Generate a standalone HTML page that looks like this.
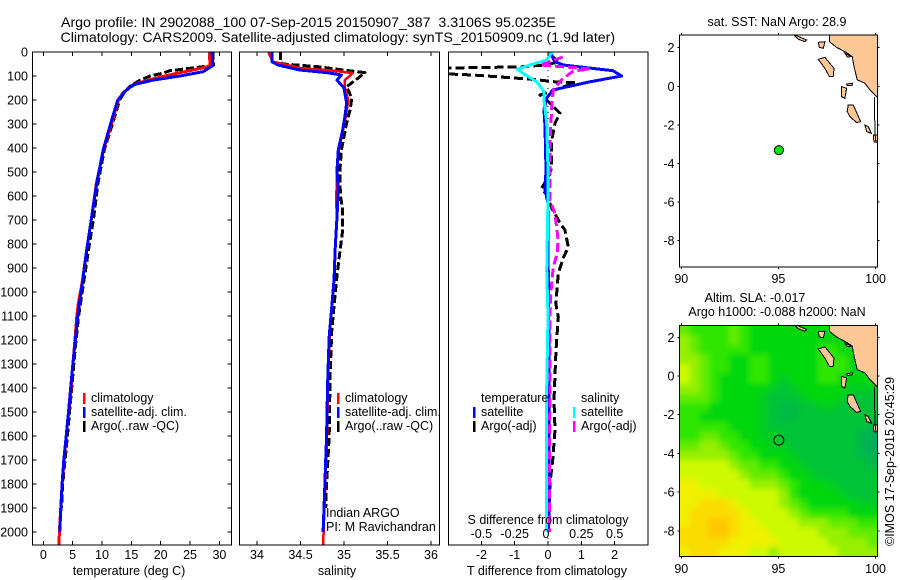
<!DOCTYPE html>
<html lang="en">
<head>
<meta charset="utf-8">
<title>Argo profile</title>
<style>
html,body{margin:0;padding:0;background:#fff;}
svg{display:block;font-family:"Liberation Sans",sans-serif;fill:#000;}
text{font-size:12.5px;}
.ttl{font-size:14.18px;}
</style>
</head>
<body>
<svg id="fig" xmlns="http://www.w3.org/2000/svg" width="900" height="580" viewBox="0 0 900 580">
<defs>
<clipPath id="c1"><rect x="32.5" y="52" width="199" height="493"/></clipPath>
<clipPath id="c2"><rect x="239.5" y="52" width="200" height="493"/></clipPath>
<clipPath id="c3"><rect x="448.5" y="52" width="199.5" height="493"/></clipPath>
<clipPath id="m1"><rect x="679.5" y="35" width="198" height="232"/></clipPath>
<clipPath id="m2"><rect x="679.5" y="325.5" width="198" height="231"/></clipPath>
<filter id="soft" filterUnits="userSpaceOnUse" x="650" y="295" width="250" height="290"><feGaussianBlur stdDeviation="3"/></filter>
</defs>
<rect width="900" height="580" fill="#fff"/>
<text class="ttl" x="61" y="27" xml:space="preserve">Argo profile: IN 2902088_100 07-Sep-2015 20150907_387  3.3106S 95.0235E</text>
<text class="ttl" x="60.5" y="42">Climatology: CARS2009. Satellite-adjusted climatology: synTS_20150909.nc (1.9d later)</text>

<g id="p1"></g>
<g id="p2"></g>
<g id="p3"></g>
<g id="m1g"></g>
<g id="m2g"></g>

<text x="129" y="575" text-anchor="middle">temperature (deg C)</text>
<text x="337" y="575" text-anchor="middle">salinity</text>
<text x="547" y="575" text-anchor="middle">T difference from climatology</text>
<text x="548" y="524" text-anchor="middle">S difference from climatology</text>

<g>
<rect x="83" y="393" width="2.5" height="11" fill="#f00"/>
<text x="91" y="402">climatology</text>
<rect x="83" y="407" width="2.5" height="11" fill="#00f"/>
<text x="91" y="416">satellite-adj. clim.</text>
<rect x="83" y="421" width="2.5" height="11" fill="#000"/>
<text x="91" y="430">Argo(..raw -QC)</text>
</g>
<g>
<rect x="337" y="393" width="2.5" height="11" fill="#f00"/>
<text x="345" y="402">climatology</text>
<rect x="337" y="407" width="2.5" height="11" fill="#00f"/>
<text x="345" y="416">satellite-adj. clim.</text>
<rect x="337" y="421" width="2.5" height="11" fill="#000"/>
<text x="345" y="430">Argo(..raw -QC)</text>
</g>
<g>
<text x="481" y="402">temperature</text>
<text x="581" y="402">salinity</text>
<rect x="473" y="407" width="2.5" height="11" fill="#00f"/>
<text x="481" y="416">satellite</text>
<rect x="473" y="421" width="2.5" height="11" fill="#000"/>
<text x="481" y="430">Argo(-adj)</text>
<rect x="573" y="407" width="2.5" height="11" fill="#0ff"/>
<text x="581" y="416">satellite</text>
<rect x="573" y="421" width="2.5" height="11" fill="#f0f"/>
<text x="581" y="430">Argo(-adj)</text>
</g>
<text x="326" y="517">Indian ARGO</text>
<text x="326" y="531">PI: M Ravichandran</text>

<text x="777" y="26" text-anchor="middle">sat. SST: NaN Argo: 28.9</text>
<text x="755" y="302" text-anchor="middle">Altim. SLA: -0.017</text>
<text x="777" y="316" text-anchor="middle">Argo h1000: -0.088 h2000: NaN</text>
<text transform="translate(894,546) rotate(-90)">©IMOS 17-Sep-2015 20:45:29</text>
</svg>

<script>
// ---- axis tick labels ----
const depthTicks = [0,100,200,300,400,500,600,700,800,900,1000,1100,1200,1300,1400,1500,1600,1700,1800,1900,2000];
const tempTicks = [0,5,10,15,20,25,30];
const salTicks = [34,34.5,35,35.5,36];
const tDiffTicks = [-2,-1,0,1,2];
const sDiffTicks = [-0.5,-0.25,0,0.25,0.5];
const lonTicks = [90,95,100];
const latTicks = [2,0,-2,-4,-6,-8];

// ---- temperature profiles ----
const tempClimDepth = [0,55,62,75,90,110,130,150,170,200,283,408,547,686,825,964,1050,1103,1242,1353,1400,1600,1800,2000,2055];
const tempClim = [28.3,28.4,27.8,25.5,22.5,19,16,14.6,13.6,12.8,11.8,10.25,9.05,8.25,7.4,6.6,5.95,5.7,5.25,4.84,4.75,3.9,3.2,2.75,2.65];
const tempSatDepth = [0,47,60,70,82,100,117,137,165,200,283,408,547,686,825,964,1103,1242,1353,1500,1600,1700,1800,1900,2000];
const tempSat = [28.7,28.9,28.7,28.0,27.2,23.3,18.7,15.3,13.9,12.7,11.65,10.2,9.1,8.24,7.39,6.65,5.86,5.28,4.84,4.3,3.9,3.5,3.2,3.0,2.8];
const tempArgoDepth = [0,55,60,65,78,88,100,117,140,165,200,283,408,547,686,825,964,1103,1242,1353,1600,1800,1900];
const tempArgo = [28.9,29,27.5,26,21.6,20.4,18.2,16.5,14.9,13.9,13,12,10.4,9.3,8.6,7.7,6.85,6.0,5.4,5.0,4.1,3.3,3.1];

// ---- salinity profiles ----
const salClimDepth = [0,30,40,50,67,78,88,117,150,200,270,325,408,492,630,686,811,950,1061,1186,1340,1600,1800,2000,2055];
const salClim = [34.13,34.17,34.18,34.3,34.5,34.87,35.1,35.01,35.01,35.05,35.02,34.99,34.94,34.92,34.91,34.92,34.9,34.885,34.86,34.835,34.82,34.805,34.785,34.765,34.76];
const salSatDepth = [0,40,54,75,86,96,117,150,213,270,325,408,492,575,686,811,950,1061,1186,1340,1500,1600,1700,1800,1900,2000];
const salSat = [34.17,34.17,34.24,34.49,34.8,34.97,34.92,35.0,35.03,35.01,34.985,34.935,34.92,34.935,34.92,34.9,34.885,34.86,34.83,34.815,34.805,34.8,34.79,34.78,34.77,34.76];
const salArgoDepth = [0,43,50,61,75,86,109,145,192,241,297,408,505,600,658,742,839,946,1158,1340,1600,1800,1900];
const salArgo = [34.27,34.27,34.3,34.69,34.99,35.24,35.16,35.03,35.09,35.07,35.03,34.97,34.95,34.96,34.985,34.985,34.95,34.915,34.86,34.84,34.83,34.8,34.79];

// ---- difference profiles ----
const dTSatDepth = [0,40,54,67,78,100,124,158,192,241,311,492,575,630,800,1100,1400,1700,2000];
const dTSat = [0.06,0.2,0.46,1.26,1.95,2.21,1.26,0.15,-0.04,-0.12,-0.09,-0.06,-0.09,0,0,0.02,0.03,0.03,0.02];
const dTArgoDepth = [12,33,42,54,62,67,80,92,96,114,124,128,158,179,200,255,297,367,479,512,567,596,650,713,742,813,858,921,1004,1046,1104,1242,1450,1575,1700,1796,1900];
const dTArgo = [0.09,0.24,0.3,-0.09,-0.84,-3.2,-3.3,-2.9,-2.25,-0.45,0.21,0.81,0.21,-0.24,-0.04,0.36,0.21,0.11,0.11,0.04,-0.19,-0.04,0.11,0.36,0.51,0.61,0.46,0.31,0.26,0.23,0.31,0.24,0.18,0.21,0.14,0.06,0.03];
const dSSatDepth = [0,33,54,72,88,124,165,200,297,492,600,780,908,1100,1400,1700,2000];
const dSSat = [0.03,-0.01,-0.135,-0.23,-0.19,-0.085,-0.03,-0.03,-0.01,0,0,-0.005,-0.01,0,-0.01,-0.01,-0.01];
const dSArgoDepth = [21,54,67,71,79,117,158,213,367,533,617,671,729,783,838,896,950,1013,1104,1400,1700,2000];
const dSArgo = [0.11,-0.06,0.24,0.315,0.19,0.1,0.04,0.03,0.015,0.015,0.015,0.05,0.065,0.075,0.07,0.04,0.03,0.02,0.015,0.015,0.01,0.01];

// ---- sea level anomaly grid (colour class units, north to south) ----
const slaGrid = [
[4,3,3,3,3,4,3,2,2,2,2,2,2,2,2,2,2,2,2,2],
[5,4,3,3,3,4,3,2,2,2,2,2,2,2,2,2,2,2,2,2],
[5,4,3,3,3,3,3,2,2,2,2,2,2,2,3,3,2,2,2,2],
[5,5,4,3,3,2,2,3,3,2,2,2,2,2,3,3,3,2,2,2],
[6,5,4,3,3,2,2,3,3,2,2,2,2,2,3,3,3,2,2,2],
[6,5,4,3,2,2,2,3,3,2,1.5,2,2,2,3,3,2,2,2,2],
[5,5,4,3,2,2,2,2,2,1.5,1,1.5,2,2,2,2,2,1.5,1.5,1.5],
[4,4,4,3,2,2,2,2,1.5,1,1,1,1.5,2,2,2,1.5,1,1,1],
[3,3,3,2,2,2,2,2,1.5,1,0.6,0.6,1,1,1.5,1.5,1,1,1,1],
[3,3,2,2,2,2,2,2,1.5,1,0.6,0.6,1,1,1,1,1,1,1,1],
[3,3,3,3,3,2,2,2,1.5,1,1,1,1,1,1,1,1,1,1,0.3],
[3,3,4,4,3,3,2,2,1.5,1.5,1,1,1,1,1,1,1,1,0.3,0],
[4,4,5,5,4,3,3,2,2,1.5,1.5,1,1,1,1,1,1,1,0.3,0],
[5,5,5,5,5,4,3,3,2,2,2,1.5,1,1,1,1,1,1,0.5,0.3],
[6,6,6,6,6,5,4,4,3,3,2,2,1.5,1,1,1,1,1,1,0.5],
[6,6,6,6,6,6,5,4,4,4,3,2,2,1.5,1,1,1,1,1,1],
[7,7,6,6,6,6,6,5,5,5,4,3,2,2,2,1.5,1,1,1,1],
[7,7,7,7,6,6,6,6,6,6,5,3,2,2,2,2,1.5,1,1,1],
[7,7,8,8,8,7,6,6,6,6,5,4,3,2,2,2,2,2,1.5,1.5],
[7,8,8,8,8,8,7,6,6,6,6,5,4,3,3,3,3,2,2,2],
[7,8,8,9,9,8,7,7,6,6,6,6,5,5,5,4,4,4,3,3],
[8,8,8,9,9,8,7,7,7,6,6,6,6,6,5,5,5,4,4,4],
[8,8,8,8,8,7,7,7,7,7,6,6,6,6,6,5,5,5,5,4],
[7,8,8,8,7,7,7,6,6,5,6,6,6,6,6,6,5,5,5,5]
];
const slaStops = [[0,175,90],[0,195,55],[0,215,15],[45,230,0],[100,235,0],[150,240,0],[205,250,0],[240,240,0],[250,220,0],[255,200,0]];
function slaColor(v) {
  const i = Math.min(Math.floor(v), slaStops.length - 2);
  const f = v - i;
  const c = slaStops[i].map((a, k) => Math.round(a + (slaStops[i + 1][k] - a) * f));
  return 'rgb(' + c.join(',') + ')';
}

// ---- coastline (lon, lat) ----
const mainland = [[97.62,2.7],[97.62,2.31],[97.99,2.02],[98.51,1.74],[98.80,1.54],[98.89,1.02],[99.06,0.33],[99.45,0.16],[99.71,-0.19],[100.15,-0.62],[100.15,2.7]];
const islands = [
[[97.05,1.40],[97.39,1.50],[97.86,0.93],[97.82,0.50],[97.62,0.50],[97.39,0.93]],
[[98.59,-0.97],[98.85,-0.97],[99.23,-1.83],[99.02,-1.88],[98.68,-1.57],[98.54,-1.31]],
[[99.45,-2.0],[99.62,-2.09],[99.79,-2.44],[99.54,-2.35]],
[[99.88,-2.52],[100.15,-2.52],[100.15,-2.92],[99.91,-2.87]],
[[98.51,0.12],[98.82,0.16],[98.78,0.05],[98.54,0.03]],
[[98.25,-0.02],[98.51,-0.10],[98.42,-0.62],[98.25,-0.54]],
[[97.05,2.28],[97.39,2.31],[97.31,1.97],[97.10,2.02]],
[[95.76,2.7],[96.45,2.40],[96.36,2.31],[96.02,2.44]],
[[98.42,1.71],[98.76,1.54],[98.55,1.52]]
];
const coastLine = [[99.95,-0.55],[99.95,-1.5],[99.98,-2.55],[100.02,-2.9]];
const floatLon = [95.0235];
const floatLat = [-3.3106];

// ---- axis functions ----
const yDepth = d => 52 + d * 0.24;
const xTemp = t => 43.3 + t * 5.87;
const xSal = s => 257 + (s - 34) * 87;
const xDT = t => 548 + t * 33.3;
const xDS = s => 548 + s * 133.3;
const xLon = l => 681.3 + (l - 90) * 19.43;
const yLat1 = l => 86.3 - l * 19.3;
const yLat2 = l => 376 - l * 19.37;

const NS = 'http://www.w3.org/2000/svg';
function add(parent, tag, attrs, name, txt) {
  const n = document.createElementNS(NS, tag);
  for (const k in attrs) n.setAttribute(k, attrs[k]);
  
  
  if (txt !== undefined) n.textContent = txt;
  parent.appendChild(n);
  return n;
}
function tick(p, x1, y1, x2, y2) {
  add(p, 'line', {x1, y1, x2, y2, stroke:'#000', 'stroke-width':1, 'shape-rendering':'crispEdges'}, 'tick-mark');
}
function profile(p, clip, xs, ds, fx, color, w, dash, name) {
  const pts = xs.map((v, i) => fx(v).toFixed(1) + ',' + yDepth(ds[i]).toFixed(1)).join(' ');
  const a = {points:pts, fill:'none', stroke:color, 'stroke-width':w, 'clip-path':'url(#' + clip + ')', 'stroke-linejoin':'round', 'shape-rendering':'crispEdges'};
  if (dash) a['stroke-dasharray'] = dash;
  add(p, 'polyline', a, name);
}
function box(p, x, y, w, h) {
  add(p, 'rect', {x, y, width:w, height:h, fill:'none', stroke:'#000', 'stroke-width':1.4, 'shape-rendering':'crispEdges'}, 'plot-frame');
}

// ---- panel 1: temperature ----
const p1 = document.getElementById('p1');
profile(p1, 'c1', tempArgo, tempArgoDepth, xTemp, '#000', 3, '8 3', 'argo-temperature-line');
profile(p1, 'c1', tempClim, tempClimDepth, xTemp, '#f00', 3, null, 'climatology-temperature-line');
profile(p1, 'c1', tempSat, tempSatDepth, xTemp, '#00f', 3, null, 'satellite-temperature-line');
box(p1, 32.5, 52, 199, 493);
depthTicks.forEach(d => {
  tick(p1, 32.5, yDepth(d), 36.5, yDepth(d));
  tick(p1, 227.5, yDepth(d), 231.5, yDepth(d));
  add(p1, 'text', {x:28, y:yDepth(d) + 4.5, 'text-anchor':'end'}, 'depth-tick-label', d);
});
tempTicks.forEach(t => {
  tick(p1, xTemp(t), 52, xTemp(t), 56);
  tick(p1, xTemp(t), 541, xTemp(t), 545);
  add(p1, 'text', {x:xTemp(t), y:559, 'text-anchor':'middle'}, 'temperature-tick-label', t);
});

// ---- panel 2: salinity ----
const p2 = document.getElementById('p2');
profile(p2, 'c2', salArgo, salArgoDepth, xSal, '#000', 3, '8 3', 'argo-salinity-line');
profile(p2, 'c2', salClim, salClimDepth, xSal, '#f00', 2.5, null, 'climatology-salinity-line');
profile(p2, 'c2', salSat, salSatDepth, xSal, '#00f', 3, null, 'satellite-salinity-line');
box(p2, 239.5, 52, 200, 493);
salTicks.forEach(s => {
  tick(p2, xSal(s), 52, xSal(s), 56);
  tick(p2, xSal(s), 541, xSal(s), 545);
  add(p2, 'text', {x:xSal(s), y:559, 'text-anchor':'middle'}, 'salinity-tick-label', s);
});

// ---- panel 3: differences ----
const p3 = document.getElementById('p3');
add(p3, 'line', {x1:548, y1:52, x2:548, y2:545, stroke:'#000', 'stroke-width':1, 'stroke-dasharray':'1 5', 'shape-rendering':'crispEdges'}, 'zero-line');
profile(p3, 'c3', dTArgo, dTArgoDepth, xDT, '#000', 3, '9 4', 'argo-t-difference-line');
profile(p3, 'c3', dTSat, dTSatDepth, xDT, '#00f', 3, null, 'satellite-t-difference-line');
profile(p3, 'c3', dSArgo, dSArgoDepth, xDS, '#f0f', 3, '9 4', 'argo-s-difference-line');
profile(p3, 'c3', dSSat, dSSatDepth, xDS, '#0ff', 3, null, 'satellite-s-difference-line');
box(p3, 448.5, 52, 199.5, 493);
tDiffTicks.forEach(t => {
  tick(p3, xDT(t), 52, xDT(t), 56);
  tick(p3, xDT(t), 541, xDT(t), 545);
  add(p3, 'text', {x:xDT(t), y:559, 'text-anchor':'middle'}, 't-difference-tick-label', t);
});
sDiffTicks.forEach(s => {
  add(p3, 'text', {x:xDS(s) - (s === 0 ? 2 : 0), y:538, 'text-anchor':'middle'}, 's-difference-tick-label', s);
});

// ---- maps ----
function coast(g, yLat, clip) {
  const toPts = poly => poly.map(q => xLon(q[0]).toFixed(1) + ',' + yLat(q[1]).toFixed(1)).join(' ');
  add(g, 'polygon', {points:toPts(mainland), fill:'#fdc896', stroke:'#000', 'stroke-width':1, 'clip-path':'url(#' + clip + ')', 'shape-rendering':'crispEdges'}, 'mainland');
  islands.forEach(isl => {
    add(g, 'polygon', {points:toPts(isl), fill:'#fdc896', stroke:'#000', 'stroke-width':1, 'clip-path':'url(#' + clip + ')', 'shape-rendering':'crispEdges'}, 'island');
  });
  add(g, 'polyline', {points:toPts(coastLine), fill:'none', stroke:'#000', 'stroke-width':1, 'clip-path':'url(#' + clip + ')', 'shape-rendering':'crispEdges'}, 'coast-line');
}
function mapAxes(g, x, y, w, h, yLat, bottomY) {
  box(g, x, y, w, h);
  lonTicks.forEach(l => {
    tick(g, xLon(l), y - 2, xLon(l), y);
    tick(g, xLon(l), y + h, xLon(l), y + h + 2);
    add(g, 'text', {x:xLon(l), y:bottomY, 'text-anchor':'middle'}, 'longitude-tick-label', l);
  });
  latTicks.forEach(l => {
    tick(g, x - 2, yLat(l), x, yLat(l));
    tick(g, x + w, yLat(l), x + w + 2, yLat(l));
    add(g, 'text', {x:x - 5, y:yLat(l) + 4.5, 'text-anchor':'end'}, 'latitude-tick-label', l);
  });
}
const m1g = document.getElementById('m1g');
coast(m1g, yLat1, 'm1');
add(m1g, 'circle', {cx:xLon(floatLon[0]), cy:yLat1(floatLat[0]), r:4.6, fill:'#00e600', stroke:'#000', 'stroke-width':1}, 'float-location-marker');
mapAxes(m1g, 679.5, 35, 198, 232, yLat1, 283);

const m2g = document.getElementById('m2g');
const heatClip = add(m2g, 'g', {'clip-path':'url(#m2)'}, 'sla-heatmap-clip');
const heat = add(heatClip, 'g', {filter:'url(#soft)'}, 'sla-heatmap');
const cellW = 198 / slaGrid[0].length;
const cellH = 231 / slaGrid.length;
const bleed = 20;
slaGrid.forEach((row, r) => {
  row.forEach((v, c) => {
    let x0 = 679.5 + c * cellW, x1 = x0 + cellW, y0 = 325.5 + r * cellH, y1 = y0 + cellH;
    if (c === 0) x0 -= bleed;
    if (c === row.length - 1) x1 += bleed;
    if (r === 0) y0 -= bleed;
    if (r === slaGrid.length - 1) y1 += bleed;
    add(heat, 'rect', {x:x0.toFixed(2), y:y0.toFixed(2), width:(x1 - x0 + 0.5).toFixed(2), height:(y1 - y0 + 0.5).toFixed(2), fill:slaColor(v), 'shape-rendering':'crispEdges'}, 'sla-cell');
  });
});
coast(m2g, yLat2, 'm2');
add(m2g, 'circle', {cx:xLon(floatLon[0]), cy:yLat2(floatLat[0]), r:5, fill:'none', stroke:'#000', 'stroke-width':1}, 'float-location-marker');
mapAxes(m2g, 679.5, 325.5, 198, 231, yLat2, 573);
</script>
</body>
</html>
